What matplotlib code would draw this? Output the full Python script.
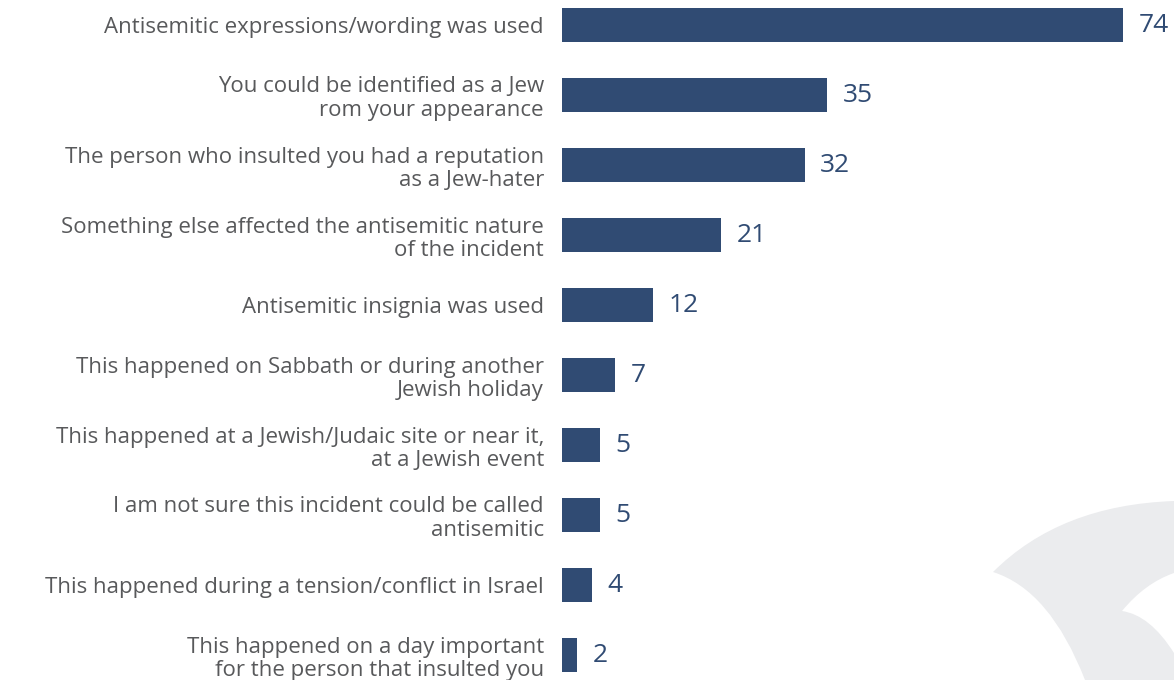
import matplotlib.pyplot as plt
from matplotlib.path import Path
from matplotlib.patches import PathPatch

plt.rcParams['font.family'] = ['Open Sans', 'DejaVu Sans']

categories = [
    "Antisemitic expressions/wording was used",
    "You could be identified as a Jew\nrom your appearance",
    "The person who insulted you had a reputation\nas a Jew-hater",
    "Something else affected the antisemitic nature\nof the incident",
    "Antisemitic insignia was used",
    "This happened on Sabbath or during another\nJewish holiday",
    "This happened at a Jewish/Judaic site or near it,\nat a Jewish event",
    "I am not sure this incident could be called\nantisemitic",
    "This happened during a tension/conflict in Israel",
    "This happened on a day important\nfor the person that insulted you",
]
values = [74, 35, 32, 21, 12, 7, 5, 5, 4, 2]

BAR = "#304b73"
TEXT = "#58595b"
W, H = 1174, 680

fig = plt.figure(figsize=(W / 100, H / 100), dpi=100)

# decorative background shape (pixel coords, y down)
def px(x, y):
    return (x / W, 1 - y / H)

verts = [px(993, 572), px(1060, 505), px(1174, 501),
         px(1174, 573), px(1145, 583), px(1122, 611),
         px(1150, 615), px(1174, 653),
         px(1174, 680), px(1085, 680),
         px(1050, 590), px(993, 572), px(993, 572)]
codes = [Path.MOVETO, Path.CURVE3, Path.CURVE3,
         Path.LINETO, Path.CURVE3, Path.CURVE3,
         Path.CURVE3, Path.CURVE3,
         Path.LINETO, Path.LINETO,
         Path.CURVE3, Path.CURVE3, Path.CLOSEPOLY]
fig.patches.append(PathPatch(Path(verts, codes), transform=fig.transFigure,
                             facecolor="#ebecee", edgecolor="none", zorder=0))

ax = fig.add_axes([562 / W, 0, (W - 562) / W, 1])
ax.set_facecolor("none")
ypos = list(range(len(values)))
ax.barh(ypos, values, height=34 / 70, color=BAR, zorder=2)
ax.set_xlim(0, 74 * (W - 562) / 561)
ax.set_ylim(655 / 70, -25 / 70)

ax.set_yticks(ypos)
ax.set_yticklabels(categories, fontsize=16, color=TEXT, linespacing=1.15)
ax.tick_params(axis="y", length=0, pad=13)
ax.set_xticks([])
for s in ax.spines.values():
    s.set_visible(False)

for y, v in zip(ypos, values):
    ax.annotate(str(v), (v, y), xytext=(11, 0), textcoords="offset points",
                va="center", ha="left", fontsize=19, color=BAR)

fig.savefig("out.png", dpi=100)
